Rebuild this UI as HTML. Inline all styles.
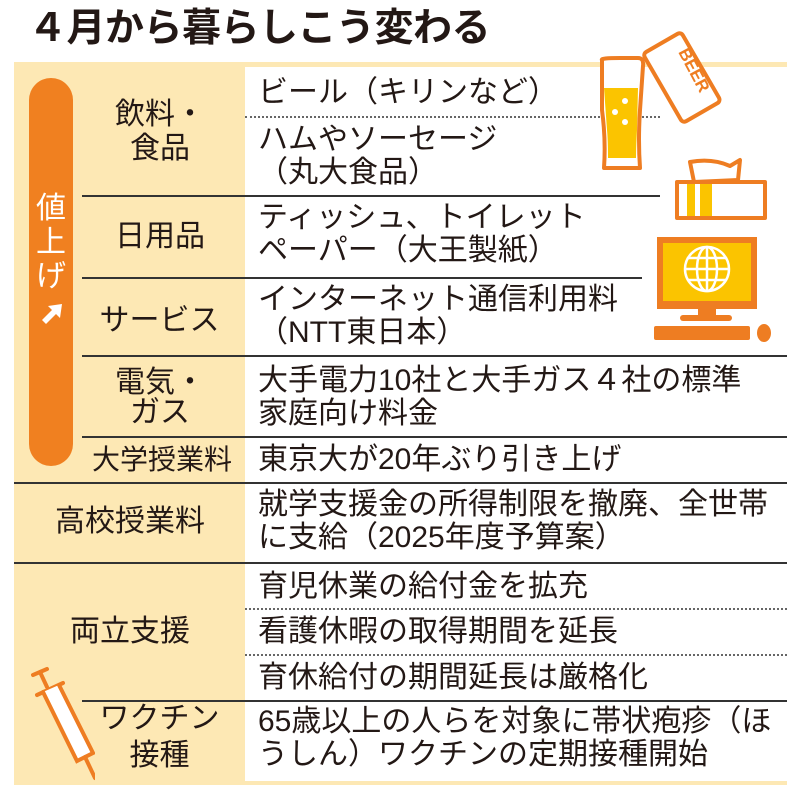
<!DOCTYPE html>
<html><head><meta charset="utf-8"><style>
body{margin:0;width:800px;height:800px;background:#fff;position:relative;overflow:hidden;font-family:"Liberation Sans","Noto Sans CJK JP",sans-serif;color:#231815}
.a{position:absolute;white-space:nowrap}
.t{font-size:30px;left:258px;line-height:33px}
.l{font-size:30px;line-height:34px;text-align:center}
.h{position:absolute;height:2px;background:#333}
.d{position:absolute;height:0;border-top:2px dotted #666}
</style></head><body>
<div class="a" style="left:28px;top:4px;font-size:39px;font-weight:bold;line-height:50px;letter-spacing:-0.5px">４月から暮らしこう変わる</div>
<div class="a" style="left:14px;top:62px;width:773px;height:723px;background:#fde8b4"></div>
<div class="a" style="left:245px;top:67px;width:542px;height:714px;background:#fff"></div>
<div class="a" style="left:29px;top:78px;width:44px;height:388px;background:#f08020;border-radius:22px"></div>
<div class="a" style="left:35px;top:192px;width:32px;font-size:30px;line-height:34px;color:#fff;text-align:center;white-space:normal">値<br>上<br>げ</div>
<svg class="a" style="left:38px;top:300px" width="28" height="28" viewBox="0 0 28 28"><path d="M4 20 L14 10 L10 6 L24 4 L22 18 L18 14 L8 24 Z" fill="#fff"/></svg>
<div class="d" style="left:245px;top:116px;width:415px"></div>
<div class="h" style="left:82px;top:195px;width:578px"></div>
<div class="h" style="left:82px;top:277px;width:560px"></div>
<div class="h" style="left:82px;top:355px;width:705px"></div>
<div class="h" style="left:82px;top:436px;width:705px"></div>
<div class="h" style="left:14px;top:482px;width:773px"></div>
<div class="h" style="left:14px;top:562px;width:773px"></div>
<div class="d" style="left:245px;top:608px;width:542px"></div>
<div class="d" style="left:245px;top:654px;width:542px"></div>
<div class="h" style="left:82px;top:700px;width:705px"></div>
<div class="a l" style="left:90px;top:98px;width:140px">飲料・<br>食品</div>
<div class="a l" style="left:90px;top:220px;width:140px">日用品</div>
<div class="a l" style="left:82px;top:304px;width:155px">サービス</div>
<div class="a l" style="left:90px;top:368px;width:140px;line-height:30px">電気・<br>ガス</div>
<div class="a l" style="left:84px;top:443px;width:156px;font-size:28px">大学授業料</div>
<div class="a l" style="left:35px;top:505px;width:190px">高校授業料</div>
<div class="a l" style="left:40px;top:615px;width:180px">両立支援</div>
<div class="a l" style="left:82px;top:700px;width:155px;line-height:37px">ワクチン<br>接種</div>
<div class="a t" style="top:76px">ビール（キリンなど）</div>
<div class="a t" style="top:123px">ハムやソーセージ<br>（丸大食品）</div>
<div class="a t" style="top:201px">ティッシュ、トイレット<br>ペーパー（大王製紙）</div>
<div class="a t" style="top:283px">インターネット通信利用料<br>（NTT東日本）</div>
<div class="a t" style="top:364px">大手電力10社と大手ガス４社の標準<br>家庭向け料金</div>
<div class="a t" style="top:443px">東京大が20年ぶり引き上げ</div>
<div class="a t" style="top:488px">就学支援金の所得制限を撤廃、全世帯<br>に支給（2025年度予算案）</div>
<div class="a t" style="top:570px">育児休業の給付金を拡充</div>
<div class="a t" style="top:615px">看護休暇の取得期間を延長</div>
<div class="a t" style="top:661px">育休給付の期間延長は厳格化</div>
<div class="a t" style="top:705px">65歳以上の人らを対象に帯状疱疹（ほ<br>うしん）ワクチンの定期接種開始</div>
<svg class="a" style="left:580px;top:30px" width="220" height="330" viewBox="0 0 220 330">
<g stroke="#ee7d22" stroke-width="4" fill="#fff" stroke-linejoin="round">
<path d="M22 30 Q20 28 40 28 L58 28 Q64 28 63 36 L60 80 Q58 110 60 138 L24 138 Q26 110 22 80 Z"/>
<rect x="80" y="8" width="44" height="80" rx="4" transform="rotate(-30 101 48)"/>
<path d="M110 132 Q132 128 150 136 L160 130 L158 150 L114 152 Z"/>
<rect x="97" y="152" width="88" height="36"/>
</g>
<path d="M24 58 L58 58 L57 100 Q56 118 56 128 L28 128 Q28 110 27 100 Z" fill="#fbc400"/>
<circle cx="45" cy="71" r="3" fill="#fff"/><circle cx="35" cy="82" r="3" fill="#fff"/><circle cx="45" cy="92" r="3" fill="#fff"/>
<text x="0" y="0" font-size="17" font-weight="bold" fill="#ee7d22" font-family="Liberation Sans" transform="translate(98 22) rotate(62)">BEER</text>
<rect x="107" y="154" width="8" height="32" fill="#fbc400"/><rect x="120" y="154" width="12" height="32" fill="#fbc400"/>
<rect x="77" y="207" width="100" height="72" fill="#ee7d22"/>
<rect x="83" y="213" width="88" height="58" fill="#fbc400"/>
<g stroke="#fff" stroke-width="2.5" fill="none"><circle cx="127" cy="239" r="22"/><ellipse cx="127" cy="239" rx="10" ry="22"/><line x1="127" y1="217" x2="127" y2="261"/><line x1="105" y1="239" x2="149" y2="239"/><line x1="108" y1="228" x2="146" y2="228"/><line x1="108" y1="250" x2="146" y2="250"/></g>
<rect x="118" y="279" width="18" height="8" fill="#ee7d22"/>
<rect x="100" y="285" width="52" height="6" rx="3" fill="#ee7d22"/>
<rect x="74" y="296" width="96" height="14" rx="2" fill="#ee7d22"/>
<ellipse cx="184" cy="303" rx="7" ry="9" fill="#ee7d22"/>
</svg>
<svg class="a" style="left:25px;top:665px" width="70" height="120" viewBox="0 0 70 120">
<g stroke="#ee7d22" stroke-width="4" fill="none" stroke-linecap="round">
<line x1="8" y1="10" x2="22" y2="4"/><line x1="15" y1="7" x2="22" y2="22"/>
<line x1="12" y1="30" x2="38" y2="18"/>
<path d="M18 27 L52 96 L68 88 L34 20" fill="#fff"/>
<line x1="60" y1="92" x2="70" y2="113"/>
</g>
</svg>
</body></html>
